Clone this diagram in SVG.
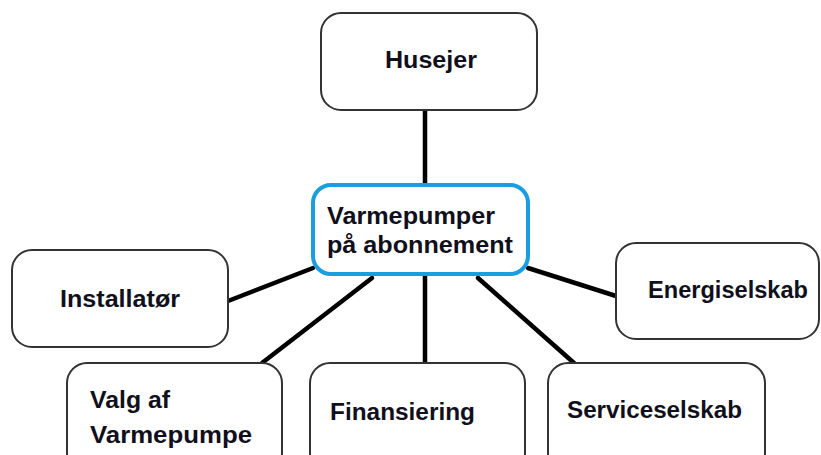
<svg xmlns="http://www.w3.org/2000/svg" width="821" height="455" viewBox="0 0 821 455">
<style>
.box{fill:#fff;stroke:#333;stroke-width:2}
.hub{fill:#fff;stroke:#1a9ee0;stroke-width:4}
.t{font-family:"Liberation Sans",Arial,sans-serif;font-weight:bold;font-size:23.5px;fill:#10101c}
.c{stroke:#000;stroke-width:4.5;stroke-linecap:round;fill:none}
</style>
<rect width="821" height="455" fill="#fff"/>
<g id="connectors">
<line class="c" x1="425" y1="110" x2="425" y2="186"/>
<line class="c" x1="228" y1="301" x2="313" y2="268"/>
<line class="c" x1="528" y1="268" x2="616" y2="296"/>
<line class="c" x1="262" y1="363" x2="372" y2="278"/>
<line class="c" x1="425" y1="276" x2="425" y2="363"/>
<line class="c" x1="478" y1="278" x2="574" y2="363"/>
</g>
<g id="husejer">
<rect class="box" x="321" y="13" width="216" height="97" rx="20"/>
<text class="t" x="385" y="68" textLength="92" lengthAdjust="spacingAndGlyphs">Husejer</text>
</g>
<g id="hub">
<rect class="hub" x="313" y="185" width="215" height="89" rx="18"/>
<text class="t" x="327" y="224" textLength="168" lengthAdjust="spacingAndGlyphs">Varmepumper</text>
<text class="t" x="327" y="253" textLength="186" lengthAdjust="spacingAndGlyphs">på abonnement</text>
</g>
<g id="installator">
<rect class="box" x="12" y="250" width="216" height="97" rx="20"/>
<text class="t" x="60" y="307" textLength="120" lengthAdjust="spacingAndGlyphs">Installatør</text>
</g>
<g id="energiselskab">
<rect class="box" x="616" y="243" width="203" height="96" rx="20"/>
<text class="t" x="648" y="298" textLength="160" lengthAdjust="spacingAndGlyphs">Energiselskab</text>
</g>
<g id="valg">
<rect class="box" x="67" y="363" width="215" height="110" rx="20"/>
<text class="t" x="90" y="408" textLength="80" lengthAdjust="spacingAndGlyphs">Valg af</text>
<text class="t" x="90" y="443" textLength="162" lengthAdjust="spacingAndGlyphs">Varmepumpe</text>
</g>
<g id="finansiering">
<rect class="box" x="310" y="363" width="215" height="110" rx="20"/>
<text class="t" x="330" y="420" textLength="145" lengthAdjust="spacingAndGlyphs">Finansiering</text>
</g>
<g id="serviceselskab">
<rect class="box" x="548" y="363" width="217" height="110" rx="20"/>
<text class="t" x="567" y="418" textLength="175" lengthAdjust="spacingAndGlyphs">Serviceselskab</text>
</g>
</svg>
